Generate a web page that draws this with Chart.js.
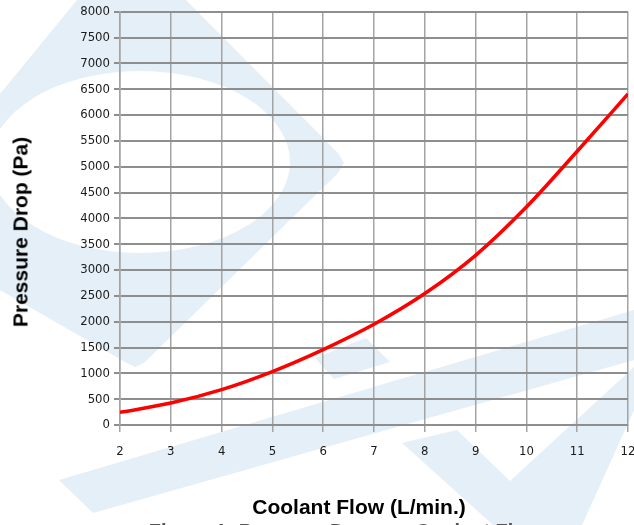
<!DOCTYPE html>
<html>
<head>
<meta charset="utf-8">
<script src="https://cdn.jsdelivr.net/npm/chart.js"></script>
<style>
  html, body { margin: 0; padding: 0; background: #fff; overflow: hidden; }
  #wrap { position: relative; width: 634px; height: 525px; overflow: hidden; }
  #bg { position: absolute; left: 0; top: 0; }
  #chart { position: absolute; left: 0; top: 0; }
  .ttl { position: absolute; font-family: "Liberation Sans", Arial, sans-serif; font-weight: bold;
         white-space: nowrap; line-height: 1; transform: translate(-50%, -50%); color: #000; }
  #ytitle { left: 20px; top: 232px; font-size: 21px; transform: translate(-50%, -50%) rotate(-90deg); }
  #xtitle { left: 359px; top: 506px; font-size: 21px; }
  #caption { left: 345px; top: 531px; font-size: 20px; color: #555; }
</style>
</head>
<body>
<div id="wrap">
  <!-- faint watermark behind the chart -->
  <svg id="bg" width="634" height="525" viewBox="0 0 634 525">
    <defs>
      <mask id="cut">
        <rect x="0" y="0" width="634" height="525" fill="#fff"/>
        <ellipse cx="140" cy="162" rx="150" ry="91" fill="#000"/>
      </mask>
    </defs>
    <g fill="#e4eff7">
      <polygon mask="url(#cut)" points="77,0 186,0 338,153 344,163 338,173 145,362 135,367 125,362 0,290 0,94"/>
      <polygon points="315,358 366,338 390,362 334,379"/>
      <polygon points="59,480 634,310 634,360 93,513"/>
      <polygon points="402,443 457,430 510,481 634,367 634,410 582,525 493,525"/>
    </g>
  </svg>
  <canvas id="chart" width="634" height="525"></canvas>
  <div class="ttl" id="ytitle">Pressure Drop (Pa)</div>
  <div class="ttl" id="xtitle">Coolant Flow (L/min.)</div>
  <div class="ttl" id="caption">Figure 1: Pressure Drop vs. Coolant Flow</div>
</div>

<script>
// coolant flow (L/min.) and the pressure drop (Pa)
var flow = [2, 3, 4, 5, 6, 7, 8, 9, 10, 11, 12];
var pressure = [245, 425, 685, 1035, 1460, 1950, 2545, 3285, 4220, 5300, 6410];

// axis ranges
var xMin = 2, xMax = 12, xStep = 1;
var yMin = 0, yMax = 8000, yStep = 500;

var points = flow.map(function (f, i) { return { x: f, y: pressure[i] }; });

// narrow tick labels; 'condensed' goes into the canvas font string as font-stretch
var tickFont = { family: "'Liberation Sans Narrow', 'DejaVu Sans', sans-serif", size: 13, weight: 'condensed' };

function plainNumber(value) { return String(value); }

new Chart(document.getElementById('chart').getContext('2d'), {
    type: 'line',
    data: {
        datasets: [{
            label: 'Pressure Drop',
            data: points,
            borderColor: '#ff0000',
            borderWidth: 3.5,
            pointRadius: 0,
            fill: false,
            tension: 0.4,
            cubicInterpolationMode: 'monotone'
        }]
    },
    options: {
        responsive: false,
        animation: false,
        layout: { padding: { top: 11, right: 6, left: 0, bottom: 0 } },
        plugins: {
            legend: { display: false },
            tooltip: { enabled: false }
        },
        scales: {
            x: {
                type: 'linear',
                min: xMin,
                max: xMax,
                afterFit: function (scale) {
                    scale.height = 100;
                    // don't let the label padding squeeze the plot sideways
                    scale.paddingLeft = 0;
                    scale.paddingRight = 0;
                },
                ticks: { stepSize: xStep, color: '#1a1a1a', font: tickFont, padding: 12, maxRotation: 0, callback: plainNumber },
                grid: { color: '#a4a4a4', lineWidth: 1.5, tickLength: 7 },
                border: { color: '#8e8e8e', width: 2 }
            },
            y: {
                min: yMin,
                max: yMax,
                afterFit: function (scale) { scale.width = 120; },
                ticks: { stepSize: yStep, color: '#1a1a1a', font: tickFont, padding: 4, callback: plainNumber },
                grid: { color: '#8e8e8e', lineWidth: 2, tickLength: 6 },
                border: { color: '#a4a4a4', width: 1.5 }
            }
        }
    }
});
</script>
</body>
</html>
